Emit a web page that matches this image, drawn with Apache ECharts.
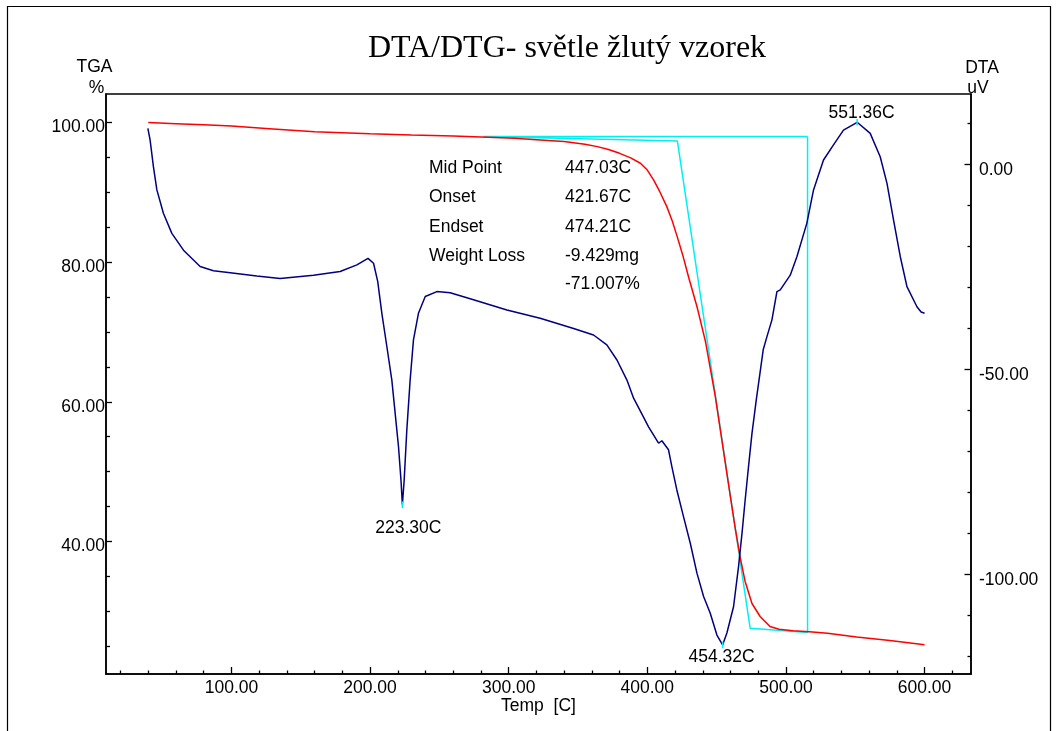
<!DOCTYPE html>
<html><head><meta charset="utf-8">
<script src="https://cdn.jsdelivr.net/npm/echarts@6/dist/echarts.min.js"></script>
<style>html,body{margin:0;padding:0;background:#fff}#c{width:1056px;height:731px}</style>
</head><body><div id="c"></div>
<script>
// ---- data ----
const tgaTemp = [40, 60, 80, 100, 130, 160, 200, 230, 260, 280, 304, 320, 340, 355, 364, 372, 380, 388, 395, 400, 404.5, 409, 414, 418, 421.5, 426, 430, 436, 442, 449, 455, 460, 463.5, 467, 470.5, 475.5, 481.5, 488.5, 495, 505, 517, 530, 551, 575, 600];
const tgaPct = [100.0, 99.85, 99.7, 99.5, 99.1, 98.7, 98.4, 98.24, 98.1, 97.95, 97.76, 97.55, 97.28, 96.9, 96.56, 96.15, 95.6, 94.95, 94.18, 93.2, 91.8, 90.1, 88.0, 85.9, 83.7, 80.7, 77.7, 73.5, 68.6, 60.8, 52.9, 46.3, 41.8, 37.7, 34.3, 31.1, 29.2, 27.8, 27.4, 27.2, 27.05, 26.85, 26.3, 25.8, 25.2];

const dtaTemp = [39.7, 41.3, 43.7, 46.2, 50.9, 57.0, 65.4, 77.4, 87.0, 99.1, 118.3, 135.1, 159.2, 178.4, 190.5, 198.5, 202.5, 205.5, 208.5, 212.1, 215.7, 218.1, 220.5, 222.3, 223.3, 224.6, 226.5, 228.9, 231.3, 234.9, 239.8, 248.2, 257.8, 274.6, 298.7, 322.7, 346.8, 361.2, 370.8, 378.1, 385.3, 390.1, 394.9, 400.9, 408.1, 410.5, 415.3, 417.7, 421.3, 426.1, 431.0, 435.8, 440.6, 445.4, 450.2, 454.3, 457.4, 462.2, 465.8, 468.3, 470.6, 473.0, 475.5, 478.6, 483.6, 486.3, 489.9, 493.5, 495.9, 503.1, 507.9, 515.1, 519.9, 527.1, 534.3, 541.5, 551.4, 560.8, 568.0, 572.9, 577.6, 582.5, 587.3, 594.5, 597.5, 600];
const dtaUV = [8.8, 6.0, -0.5, -6.2, -11.9, -16.8, -20.9, -24.9, -25.9, -26.4, -27.2, -27.8, -27.0, -26.1, -24.5, -22.9, -24.1, -28.5, -36.3, -44.4, -52.6, -60.7, -68.8, -77.0, -83.0, -77.0, -64.8, -52.6, -42.8, -36.3, -32.2, -31.0, -31.3, -33.0, -35.5, -37.5, -40.0, -41.6, -44.0, -47.7, -52.6, -57.0, -60.1, -64.0, -68.0, -67.4, -69.6, -73.7, -79.4, -85.9, -92.4, -99.7, -105.4, -109.5, -114.8, -117.2, -114.3, -107.9, -98.1, -90.0, -81.8, -73.7, -65.6, -57.4, -45.2, -42.0, -37.9, -31.0, -30.6, -27.0, -22.5, -14.3, -6.2, 1.1, 4.8, 8.4, 10.3, 7.6, 1.9, -4.6, -13.5, -22.5, -29.8, -34.7, -36.0, -36.3];

// analysis construction (onset / endset tangents) in TGA units
const analysisTemp = [515.6, 281.6, 421.67, 474.21, 515.6, 515.6];
const analysisPct = [98.0, 98.0, 97.38, 27.55, 26.93, 98.0];

// DTA peaks
const peakTemp = [223.30, 454.32, 551.36];
const peakUV = [-83.0, -117.2, 10.3];
const peakLabels = ['223.30C', '454.32C', '551.36C'];

// result table
const resultNames = ['Mid Point', 'Onset', 'Endset', 'Weight Loss', ''];
const resultValues = ['447.03C', '421.67C', '474.21C', '-9.429mg', '-71.007%'];

// ticks
const xMajor = [100, 200, 300, 400, 500, 600];
const xMinor = [20, 40, 60, 80, 120, 140, 160, 180, 220, 240, 260, 280, 320, 340, 360, 380, 420, 440, 460, 480, 520, 540, 560, 580, 620];
const leftMajor = [40, 60, 80, 100];
const leftMinor = [25, 30, 35, 45, 50, 55, 65, 70, 75, 85, 90, 95];
const rightMajor = [-100, -50, 0];
const rightMinor = [-120, -110, -90, -80, -70, -60, -40, -30, -20, -10, 10];

// ---- chart ----
const FONT = "'Liberation Sans', Arial, sans-serif";
const FS = 17.5;
const chart = echarts.init(document.getElementById('c'), null, {renderer: 'canvas'});
const lineBlack = {color: '#000', width: 1.5};
const X = {min: 9.5, max: 633.5};
const YL = {min: 21.0, max: 104.1};
const YR = {min: -124.3, max: 17.2};
const fmt = v => Number(v).toFixed(2);

function pairs(a, b) { return a.map((v, i) => [v, b[i]]); }
const peakTicks = [];
peakTemp.forEach((t, i) => { peakTicks.push([t, peakUV[i] + 0.8]); peakTicks.push([t, peakUV[i] - 0.8]); peakTicks.push([t, '-']); });

chart.setOption({
  animation: false,
  backgroundColor: '#fff',
  grid: {left: 106, top: 94, width: 865, height: 580, show: true, borderColor: '#000', borderWidth: 1.5, containLabel: false},
  xAxis: [
    {type: 'value', min: X.min, max: X.max, position: 'bottom',
     axisLine: {show: true, onZero: false, lineStyle: lineBlack}, splitLine: {show: false},
     axisTick: {show: true, inside: true, length: 7, customValues: xMajor, lineStyle: {color: '#000', width: 1.3}},
     axisLabel: {customValues: xMajor, formatter: fmt, margin: 5, fontSize: FS, color: '#000', fontFamily: FONT}},
    {type: 'value', min: X.min, max: X.max, position: 'bottom',
     axisLine: {show: false, onZero: false}, splitLine: {show: false},
     axisTick: {show: true, inside: true, length: 3.5, customValues: xMinor, lineStyle: {color: '#000', width: 1.3}},
     axisLabel: {show: false}}
  ],
  yAxis: [
    {type: 'value', min: YL.min, max: YL.max, position: 'left',
     axisLine: {show: true, onZero: false, lineStyle: lineBlack}, splitLine: {show: false},
     axisTick: {show: true, inside: true, length: 6, customValues: leftMajor, lineStyle: {color: '#000', width: 1.3}},
     axisLabel: {customValues: leftMajor, formatter: fmt, margin: 1, verticalAlign: 'top', lineHeight: 10, fontSize: FS, color: '#000', fontFamily: FONT}},
    {type: 'value', min: YR.min, max: YR.max, position: 'right',
     axisLine: {show: true, onZero: false, lineStyle: lineBlack}, splitLine: {show: false},
     axisTick: {show: true, inside: true, length: 6.5, customValues: rightMajor, lineStyle: {color: '#000', width: 1.3}},
     axisLabel: {customValues: rightMajor, formatter: fmt, margin: 8, verticalAlign: 'top', lineHeight: 12, fontSize: FS, color: '#000', fontFamily: FONT}},
    {type: 'value', min: YL.min, max: YL.max, position: 'left',
     axisLine: {show: false, onZero: false}, splitLine: {show: false},
     axisTick: {show: true, inside: true, length: 4, customValues: leftMinor, lineStyle: {color: '#000', width: 1.3}},
     axisLabel: {show: false}},
    {type: 'value', min: YR.min, max: YR.max, position: 'right',
     axisLine: {show: false, onZero: false}, splitLine: {show: false},
     axisTick: {show: true, inside: true, length: 3.5, customValues: rightMinor, lineStyle: {color: '#000', width: 1.3}},
     axisLabel: {show: false}}
  ],
  series: [
    {name: 'TGA', type: 'line', xAxisIndex: 0, yAxisIndex: 0, data: pairs(tgaTemp, tgaPct),
     showSymbol: false, symbol: 'none', lineStyle: {color: '#ff0000', width: 1.5}, z: 3},
    {name: 'DTA', type: 'line', xAxisIndex: 0, yAxisIndex: 1, data: pairs(dtaTemp, dtaUV),
     showSymbol: false, symbol: 'none', lineStyle: {color: '#000080', width: 1.5}, z: 4},
    {name: 'Analysis', type: 'line', xAxisIndex: 0, yAxisIndex: 0, data: pairs(analysisTemp, analysisPct),
     showSymbol: false, symbol: 'none', lineStyle: {color: '#00f0f0', width: 1.5}, z: 2},
    {name: 'Peaks', type: 'line', xAxisIndex: 0, yAxisIndex: 1, data: peakTicks, connectNulls: false,
     showSymbol: false, symbol: 'none', lineStyle: {color: '#00f0f0', width: 1.5}, z: 5}
  ]
});

// ---- text overlays ----
const g = [];
g.push({type: 'rect', shape: {x: 7.5, y: 6.5, width: 1043, height: 780}, style: {fill: 'none', stroke: '#000', lineWidth: 1.2}, z: 0, silent: true});
g.push({type: 'text', x: 567, y: 49, style: {text: 'DTA/DTG- světle žlutý vzorek', font: "32px 'Liberation Serif', 'Times New Roman', serif", fill: '#000', align: 'center', verticalAlign: 'middle'}});
const txt = (t, x, y, align) => ({type: 'text', x: x, y: y, style: {text: t, fontSize: FS, fontFamily: FONT, fill: '#000', align: align || 'center', verticalAlign: 'middle'}});
g.push(txt('TGA', 94.5, 67));
g.push(txt('%', 96.5, 88));
g.push(txt('DTA', 982, 68));
g.push(txt('uV', 978, 88));
g.push(txt('Temp  [C]', 538.5, 706));
const rowY = [168, 197, 227, 256, 284];
resultNames.forEach((n, i) => { if (n) g.push(txt(n, 429, rowY[i], 'left')); g.push(txt(resultValues[i], 565, rowY[i], 'left')); });
const peakOff = [[6, 23], [-1, 12], [4.5, -9]];
peakTemp.forEach((t, i) => {
  const p = chart.convertToPixel({seriesIndex: 1}, [t, peakUV[i]]);
  g.push(txt(peakLabels[i], p[0] + peakOff[i][0], p[1] + peakOff[i][1]));
});
chart.setOption({graphic: g});
</script>
</body></html>
